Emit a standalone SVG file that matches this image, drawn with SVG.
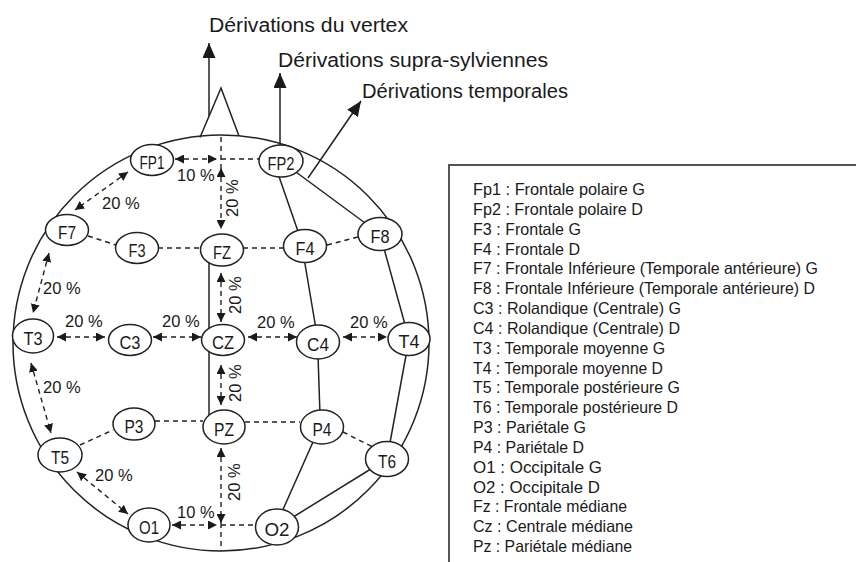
<svg xmlns="http://www.w3.org/2000/svg" width="856" height="562" viewBox="0 0 856 562">
<style>
  text { font-family: "Liberation Sans", Arial, sans-serif; fill: #1a1a1a; }
  .solid { stroke: #222; stroke-width: 1.5; fill: none; }
  .dash { stroke: #222; stroke-width: 1.4; fill: none; stroke-dasharray: 5 4; }
  .arr { marker-start: url(#ah); marker-end: url(#ah); }
  .node ellipse { fill: #fff; stroke: #222; stroke-width: 1.5; }
  .node text { font-size: 18px; text-anchor: middle; }
  .pct { font-size: 16.5px; }
  .head { font-size: 20px; }
  .legend text { font-size: 16.5px; }
</style>
<defs>
  <marker id="ah" viewBox="0 0 10 10" refX="10" refY="5" markerWidth="9" markerHeight="9" markerUnits="userSpaceOnUse" orient="auto-start-reverse">
    <path d="M0,0 L10,5 L0,10 Z" fill="#1a1a1a"/>
  </marker>
  <marker id="ahL" viewBox="0 0 15 13" refX="15" refY="6.5" markerWidth="15" markerHeight="13" markerUnits="userSpaceOnUse" orient="auto">
    <path d="M0,0 L15,6.5 L0,13 Z" fill="#1a1a1a"/>
  </marker>
</defs>
<rect width="856" height="562" fill="#fff"/>

<g id="connectors">
  <!-- head outline and nose -->
  <circle class="solid" cx="221" cy="343" r="208"/>
  <polyline class="solid" points="200,137.5 221,88 239,136"/>
  <!-- derivation arrows -->
  <line class="solid" x1="209" y1="116" x2="209" y2="43" marker-end="url(#ahL)"/>
  <line class="solid" x1="280" y1="150" x2="280" y2="73" marker-end="url(#ahL)"/>
  <line class="solid" x1="308" y1="178" x2="361" y2="101" marker-end="url(#ahL)"/>
  <!-- temporal chain -->
  <line class="solid" x1="281" y1="161" x2="380" y2="234"/>
  <line class="solid" x1="380" y1="234" x2="409" y2="339"/>
  <line class="solid" x1="409" y1="339" x2="387" y2="459"/>
  <line class="solid" x1="387" y1="459" x2="277" y2="527"/>
  <!-- supra-sylvian chain -->
  <line class="solid" x1="275" y1="165" x2="301" y2="240"/>
  <line class="solid" x1="304" y1="258" x2="317" y2="335"/>
  <line class="solid" x1="318" y1="355" x2="320" y2="415"/>
  <line class="solid" x1="313" y1="442" x2="281" y2="514"/>
  <!-- vertex chain -->
  <line class="solid" x1="209" y1="262" x2="209" y2="416"/>

  <!-- plain dashed links -->
  <line class="dash" x1="221" y1="137" x2="221" y2="168"/>
  <line class="dash" x1="221" y1="159" x2="260" y2="159"/>
  <line class="dash" x1="88" y1="236" x2="116" y2="245"/>
  <line class="dash" x1="158" y1="248" x2="200" y2="248"/>
  <line class="dash" x1="243" y1="248" x2="284" y2="248"/>
  <line class="dash" x1="327" y1="245" x2="358" y2="237"/>
  <line class="dash" x1="155" y1="421" x2="203" y2="421"/>
  <line class="dash" x1="245" y1="422" x2="300" y2="422"/>
  <line class="dash" x1="343" y1="432" x2="373" y2="447"/>
  <line class="dash" x1="80" y1="445" x2="113" y2="430"/>
  <line class="dash" x1="221" y1="525" x2="256" y2="525"/>
  <line class="dash" x1="221" y1="523" x2="221" y2="551"/>

  <!-- dashed double arrows -->
  <line class="dash arr" x1="175" y1="159" x2="217" y2="159"/>
  <line class="dash arr" x1="221" y1="168" x2="221" y2="229"/>
  <line class="dash arr" x1="221" y1="273" x2="221" y2="322"/>
  <line class="dash arr" x1="221" y1="365" x2="221" y2="405"/>
  <line class="dash arr" x1="221" y1="448" x2="221" y2="523"/>
  <line class="dash arr" x1="128" y1="172" x2="75" y2="210"/>
  <line class="dash arr" x1="49" y1="253" x2="33" y2="313"/>
  <line class="dash arr" x1="31" y1="363" x2="51" y2="433"/>
  <line class="dash arr" x1="77" y1="472" x2="128" y2="514"/>
  <line class="dash arr" x1="57" y1="337" x2="105" y2="337"/>
  <line class="dash arr" x1="153" y1="337" x2="201" y2="337"/>
  <line class="dash arr" x1="248" y1="337" x2="297" y2="337"/>
  <line class="dash arr" x1="343" y1="337" x2="387" y2="337"/>
  <line class="dash arr" x1="172" y1="525" x2="217" y2="525"/>
</g>

<g id="percent-labels">
  <text class="pct" x="177" y="181">10 %</text>
  <text class="pct" x="102" y="209">20 %</text>
  <text class="pct" x="43" y="294">20 %</text>
  <text class="pct" x="65" y="327">20 %</text>
  <text class="pct" x="162" y="327">20 %</text>
  <text class="pct" x="257" y="328">20 %</text>
  <text class="pct" x="350" y="328">20 %</text>
  <text class="pct" x="43" y="393">20 %</text>
  <text class="pct" x="95" y="481">20 %</text>
  <text class="pct" x="177" y="518">10 %</text>
  <text class="pct" x="238" y="217" transform="rotate(-90 238 217)">20 %</text>
  <text class="pct" x="241" y="314" transform="rotate(-90 241 314)">20 %</text>
  <text class="pct" x="241" y="402" transform="rotate(-90 241 402)">20 %</text>
  <text class="pct" x="240" y="501" transform="rotate(-90 240 501)">20 %</text>
</g>

<g id="headings">
  <text class="head" x="209" y="32" textLength="199" lengthAdjust="spacingAndGlyphs">Dérivations du vertex</text>
  <text class="head" x="278" y="67" textLength="270" lengthAdjust="spacingAndGlyphs">Dérivations supra-sylviennes</text>
  <text class="head" x="362" y="98" textLength="206" lengthAdjust="spacingAndGlyphs">Dérivations temporales</text>
</g>

<g id="n-FP1" class="node"><ellipse cx="152" cy="160" rx="21.5" ry="15.5"/><text x="152" y="168.5" textLength="25" lengthAdjust="spacingAndGlyphs">FP1</text></g>
<g id="n-FP2" class="node"><ellipse cx="281" cy="161" rx="22" ry="16"/><text x="281" y="169.5" textLength="27" lengthAdjust="spacingAndGlyphs">FP2</text></g>
<g id="n-F7" class="node"><ellipse cx="67" cy="230" rx="21.5" ry="15.5"/><text x="67" y="238.5" textLength="18" lengthAdjust="spacingAndGlyphs">F7</text></g>
<g id="n-F3" class="node"><ellipse cx="137" cy="248" rx="21.5" ry="15.5"/><text x="137" y="256.5" textLength="17" lengthAdjust="spacingAndGlyphs">F3</text></g>
<g id="n-FZ" class="node"><ellipse cx="222" cy="250" rx="21.5" ry="16"/><text x="222" y="258.5" textLength="18" lengthAdjust="spacingAndGlyphs">FZ</text></g>
<g id="n-F4" class="node"><ellipse cx="305" cy="246" rx="21.5" ry="16.5"/><text x="305" y="254.5" textLength="19" lengthAdjust="spacingAndGlyphs">F4</text></g>
<g id="n-F8" class="node"><ellipse cx="380" cy="234" rx="22" ry="16.5"/><text x="380" y="242.5" textLength="19" lengthAdjust="spacingAndGlyphs">F8</text></g>
<g id="n-T3" class="node"><ellipse cx="33" cy="336" rx="20.5" ry="17"/><text x="33" y="344.5" textLength="19" lengthAdjust="spacingAndGlyphs">T3</text></g>
<g id="n-C3" class="node"><ellipse cx="130" cy="340" rx="21.5" ry="15.5"/><text x="130" y="348.5" textLength="21" lengthAdjust="spacingAndGlyphs">C3</text></g>
<g id="n-CZ" class="node"><ellipse cx="223" cy="340" rx="21.5" ry="15.5"/><text x="223" y="348.5" textLength="22" lengthAdjust="spacingAndGlyphs">CZ</text></g>
<g id="n-C4" class="node"><ellipse cx="318" cy="342" rx="21.5" ry="17"/><text x="318" y="350.5" textLength="22" lengthAdjust="spacingAndGlyphs">C4</text></g>
<g id="n-T4" class="node"><ellipse cx="409" cy="339" rx="21" ry="16.5"/><text x="409" y="347.5" textLength="21" lengthAdjust="spacingAndGlyphs">T4</text></g>
<g id="n-P3" class="node"><ellipse cx="134" cy="424" rx="21" ry="16"/><text x="134" y="432.5" textLength="19" lengthAdjust="spacingAndGlyphs">P3</text></g>
<g id="n-PZ" class="node"><ellipse cx="224" cy="427" rx="21" ry="17"/><text x="224" y="435.5" textLength="20" lengthAdjust="spacingAndGlyphs">PZ</text></g>
<g id="n-P4" class="node"><ellipse cx="322" cy="427" rx="21.5" ry="17"/><text x="322" y="435.5" textLength="19" lengthAdjust="spacingAndGlyphs">P4</text></g>
<g id="n-T5" class="node"><ellipse cx="60" cy="455" rx="22" ry="17"/><text x="60" y="463.5" textLength="18" lengthAdjust="spacingAndGlyphs">T5</text></g>
<g id="n-T6" class="node"><ellipse cx="387" cy="459" rx="21.5" ry="17.5"/><text x="387" y="467.5" textLength="18" lengthAdjust="spacingAndGlyphs">T6</text></g>
<g id="n-O1" class="node"><ellipse cx="149" cy="525" rx="21" ry="17"/><text x="149" y="533.5" textLength="20" lengthAdjust="spacingAndGlyphs">O1</text></g>
<g id="n-O2" class="node"><ellipse cx="277" cy="527" rx="21.5" ry="18"/><text x="277" y="535.5" textLength="25" lengthAdjust="spacingAndGlyphs">O2</text></g>

<g id="legend" class="legend">
  <rect x="449" y="165" width="430" height="420" fill="none" stroke="#555" stroke-width="2"/>
  <text x="473" y="195" textLength="172" lengthAdjust="spacingAndGlyphs">Fp1 : Frontale polaire G</text>
  <text x="473" y="214.8" textLength="170" lengthAdjust="spacingAndGlyphs">Fp2 : Frontale polaire D</text>
  <text x="473" y="234.7" textLength="108" lengthAdjust="spacingAndGlyphs">F3 : Frontale G</text>
  <text x="473" y="254.5" textLength="107" lengthAdjust="spacingAndGlyphs">F4 : Frontale D</text>
  <text x="473" y="274.3" textLength="345" lengthAdjust="spacingAndGlyphs">F7 : Frontale Inférieure (Temporale antérieure) G</text>
  <text x="473" y="294.2" textLength="342" lengthAdjust="spacingAndGlyphs">F8 : Frontale Inférieure (Temporale antérieure) D</text>
  <text x="473" y="314" textLength="208" lengthAdjust="spacingAndGlyphs">C3 : Rolandique (Centrale) G</text>
  <text x="473" y="333.8" textLength="207" lengthAdjust="spacingAndGlyphs">C4 : Rolandique (Centrale) D</text>
  <text x="473" y="353.6" textLength="192" lengthAdjust="spacingAndGlyphs">T3 : Temporale moyenne G</text>
  <text x="473" y="373.5" textLength="190" lengthAdjust="spacingAndGlyphs">T4 : Temporale moyenne D</text>
  <text x="473" y="393.3" textLength="207" lengthAdjust="spacingAndGlyphs">T5 : Temporale postérieure G</text>
  <text x="473" y="413.1" textLength="205" lengthAdjust="spacingAndGlyphs">T6 : Temporale postérieure D</text>
  <text x="473" y="433" textLength="113" lengthAdjust="spacingAndGlyphs">P3 : Pariétale G</text>
  <text x="473" y="452.8" textLength="111" lengthAdjust="spacingAndGlyphs">P4 : Pariétale D</text>
  <text x="473" y="472.6" textLength="129" lengthAdjust="spacingAndGlyphs">O1 : Occipitale G</text>
  <text x="473" y="492.5" textLength="127" lengthAdjust="spacingAndGlyphs">O2 : Occipitale D</text>
  <text x="473" y="512.3" textLength="154" lengthAdjust="spacingAndGlyphs">Fz : Frontale médiane</text>
  <text x="473" y="532.1" textLength="160" lengthAdjust="spacingAndGlyphs">Cz : Centrale médiane</text>
  <text x="473" y="552" textLength="159" lengthAdjust="spacingAndGlyphs">Pz : Pariétale médiane</text>
</g>
</svg>
